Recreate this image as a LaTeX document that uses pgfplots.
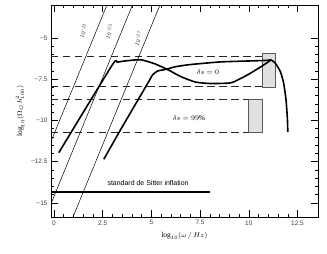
\documentclass[border=0pt]{standalone}
\usepackage{fontspec}
\setmainfont{Liberation Serif}
\setsansfont{Liberation Sans}
\usepackage{pgfplots}
\pgfplotsset{compat=1.18}
\begin{document}
\begin{tikzpicture}[x=1bp,y=1bp]
\path[use as bounding box] (-51,-37) rectangle (276,217);
\begin{axis}[
  anchor=south west, at={(0,0)},
  scale only axis, width=267bp, height=212bp,
  xmin=-0.15, xmax=13.55, ymin=-15.85, ymax=-3,
  xtick={0,2.5,5,7.5,10,12.5}, xticklabels={0,2.5,5,7.5,10,12.5},
  ytick={-15,-12.5,-10,-7.5,-5}, yticklabels={−15,−12.5,−10,−7.5,−5},
  minor tick num=4,
  major tick length=7bp, minor tick length=3.5bp,
  tick style={black, line width=0.5bp},
  axis line style={line width=0.7bp},
  ticklabel style={font=\sffamily\fontsize{6.5}{7}\selectfont, text=black!75},
  label style={font=\fontsize{7.5}{8}\selectfont},
  xlabel={$\log_{10}(\omega\,/\,Hz)$},
  ylabel={$\log_{10}(\Omega_{G}\,h^{2}_{100})$},
  clip=true,
]
% boxes
\addplot[draw=black!65, fill=black!12, line width=0.6bp] coordinates {(10.7,-5.91) (11.36,-5.91) (11.36,-7.97) (10.7,-7.97) (10.7,-5.91)};
\addplot[draw=black!65, fill=black!12, line width=0.6bp] coordinates {(9.98,-8.7) (10.7,-8.7) (10.7,-10.72) (9.98,-10.72) (9.98,-8.7)};
% dashed levels
\addplot[black!85, line width=0.6bp, dash pattern=on 7.5bp off 4.5bp] coordinates {(-0.15,-6.1) (10.7,-6.1)};
\addplot[black!85, line width=0.6bp, dash pattern=on 7.5bp off 4.5bp] coordinates {(-0.15,-7.91) (10.7,-7.91)};
\addplot[black!85, line width=0.6bp, dash pattern=on 7.5bp off 4.5bp] coordinates {(-0.15,-8.72) (9.98,-8.72)};
\addplot[black!85, line width=0.6bp, dash pattern=on 7.5bp off 4.5bp] coordinates {(-0.15,-10.72) (9.98,-10.72)};
% diagonal lines
\addplot[black, line width=0.5bp] coordinates {(-0.15,-11.27) (2.72,-3)};
\addplot[black, line width=0.5bp] coordinates {(-0.15,-15.04) (4.03,-3)};
\addplot[black, line width=0.5bp] coordinates {(0.98,-15.85) (5.44,-3)};
% de Sitter
\addplot[black, line width=1.2bp] coordinates {(-0.15,-14.33) (8.03,-14.33)};
% curve A (delta s = 0)
\addplot[black, line width=1.6bp, line join=round, smooth, tension=0.35] coordinates {
 (0.25,-11.95) (2.99,-6.64) (3.25,-6.47) (3.67,-6.39) (4.18,-6.33) (4.53,-6.33)
 (5.21,-6.58) (5.88,-6.94) (6.49,-7.33) (7.26,-7.67) (8.03,-7.76) (8.9,-7.74)
 (9.21,-7.67) (9.93,-7.24) (10.6,-6.76) (11.0,-6.45) (11.14,-6.33)
 (11.36,-6.53) (11.62,-7.04) (11.79,-7.75) (11.91,-8.76) (11.98,-9.9) (12.0,-10.7)};
% curve B (delta s = 99%)
\addplot[black, line width=1.6bp, line join=round, smooth, tension=0.35] coordinates {
 (2.56,-12.35) (3.41,-10.58) (4.85,-7.67) (5.06,-7.24) (5.32,-7.0) (5.72,-6.91)
 (6.24,-6.74) (7.0,-6.61) (8.54,-6.45) (10.08,-6.39) (10.85,-6.36) (11.14,-6.33)};
% labels
\node[rotate=67.7, font=\fontsize{6}{7}\selectfont, text=black!80] at (axis cs:1.52,-4.58) {10\textsuperscript{−23}};
\node[rotate=67.7, font=\fontsize{6}{7}\selectfont, text=black!80] at (axis cs:2.85,-4.6) {10\textsuperscript{−25}};
\node[rotate=67.7, font=\fontsize{6}{7}\selectfont, text=black!80] at (axis cs:4.34,-5.03) {10\textsuperscript{−27}};
\node[font=\fontsize{7.5}{8}\selectfont] at (axis cs:7.9,-7.06) {$\delta s = 0$};
\node[font=\fontsize{7.5}{8}\selectfont] at (axis cs:6.93,-9.85) {$\delta s = 99\%$};
\node[font=\sffamily\fontsize{7}{8}\selectfont] at (axis cs:4.83,-13.8) {standard de Sitter inflation};
\end{axis}
\end{tikzpicture}
\end{document}
